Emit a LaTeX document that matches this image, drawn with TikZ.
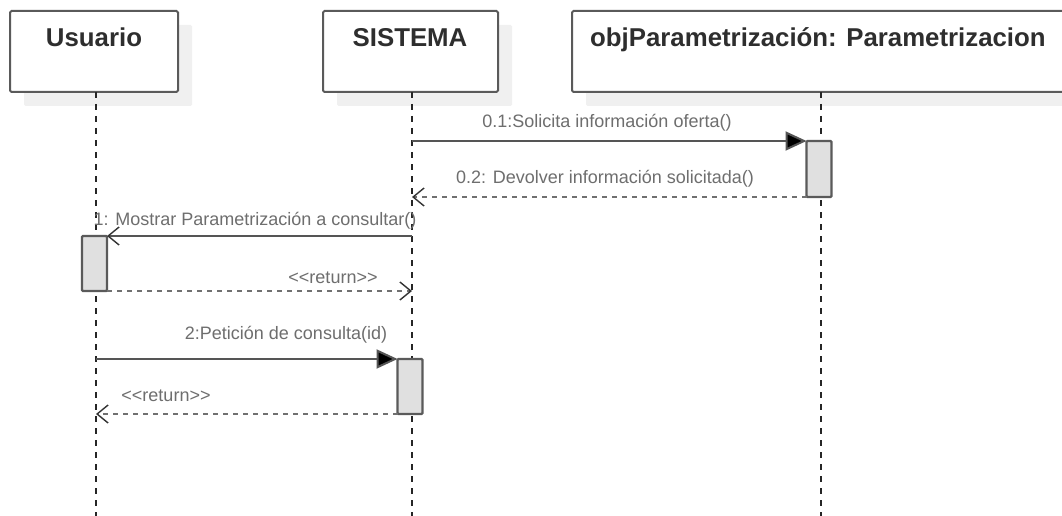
\documentclass[tikz,border=0pt]{standalone}
\usepackage{fontspec}
\setmainfont{Liberation Sans}
\usetikzlibrary{arrows.meta,shadows}

\definecolor{boxline}{HTML}{5A5A5A}
\definecolor{shade}{HTML}{F0F0F0}
\definecolor{actfill}{HTML}{E0E0E0}
\definecolor{titletext}{HTML}{2E2E2E}
\definecolor{msgtext}{HTML}{6E6E6E}
\definecolor{msgline}{HTML}{555555}
\definecolor{retline}{HTML}{707070}

\tikzset{
  objbox/.style={draw=boxline, line width=2pt, fill=white, rounded corners=1.5pt,
    minimum height=81pt, inner sep=0pt, outer sep=0pt, anchor=north west,
    drop shadow={shadow xshift=14pt, shadow yshift=-14pt, fill=shade, opacity=1}},
  objtitle/.style={font=\fontsize{25.8}{28}\selectfont\bfseries, text=titletext,
    anchor=base, inner sep=0pt},
  lifeline/.style={draw=black!85, line width=1.6pt, dash pattern=on 6pt off 6pt},
  actbox/.style={draw=boxline, line width=2.2pt, fill=actfill, rounded corners=1pt,
    minimum width=25pt, inner sep=0pt, outer sep=0pt, anchor=north},
  callmsg/.style={draw=msgline, line width=2pt,
    -{Triangle[length=21pt,width=19pt,fill=black]}},
  syncmsg/.style={draw=msgline, line width=2pt,
    -{Straight Barb[length=11pt,width=18pt,line width=1.4pt,color=black!80]}},
  retmsg/.style={draw=retline, line width=2.2pt, dash pattern=on 5pt off 5pt,
    -{Straight Barb[length=11pt,width=18pt,line width=1.4pt,color=black!80]}},
  msglabel/.style={font=\fontsize{18}{20}\selectfont, text=msgtext, inner sep=0pt}
}

\begin{document}
\begin{tikzpicture}[x=1pt,y=-1pt]
\useasboundingbox (0,0) rectangle (1062,516);
\fill[white] (0,0) rectangle (1062,516);

% participant boxes
\node[objbox, minimum width=168pt] (usr) at (10,11) {};
\node[objbox, minimum width=175pt] (sys) at (323,11) {};
\node[objbox, minimum width=494pt] (par) at (572,11) {};

\node[objtitle] (usrT) at (94,47) {Usuario};
\node[objtitle] (sysT) at (410,47) {SISTEMA};
\node[objtitle, anchor=base west] (parT) at (590,47) {objParametrización: Parametrizacion};

% lifelines
\coordinate (usrEnd) at (96,516);
\coordinate (sysEnd) at (412,516);
\coordinate (parEnd) at (821,516);
\draw[lifeline] (usr.south -| usrEnd) -- (usrEnd);
\draw[lifeline] (sys.south -| sysEnd) -- (sysEnd);
\draw[lifeline] (par.south -| parEnd) -- (parEnd);

% activation bars
\node[actbox, minimum height=56pt] (actP) at (819,141) {};
\node[actbox, minimum height=55pt] (actU) at (94.5,236) {};
\node[actbox, minimum height=55pt] (actS) at (410,359) {};

% message end points on the lifelines
\coordinate (s1) at (412,141);
\coordinate (s2) at (412,197);
\coordinate (s3) at (412,236);
\coordinate (s4) at (412,291);
\coordinate (u5) at (96,359);
\coordinate (u6) at (96,414);

% messages
\draw[callmsg] (s1) -- (actP.north west);
\draw[retmsg]  (actP.south west) -- (s2);
\draw[syncmsg] (s3) -- (actU.north east);
\draw[retmsg]  (actU.south east) -- (s4);
\draw[callmsg] (u5) -- (actS.north west);
\draw[retmsg]  (actS.south west) -- (u6);

% message labels
\node[msglabel] (l1) at (607,123) {0.1:Solicita información oferta()};
\node[msglabel] (l2) at (605,179) {0.2: Devolver información solicitada()};
\node[msglabel] (l3) at (255,221) {1: Mostrar Parametrización a consultar()};
\node[msglabel] (l4) at (333,278) {<{}<return>{}>};
\node[msglabel] (l5) at (286,335) {2:Petición de consulta(id)};
\node[msglabel] (l6) at (166,396) {<{}<return>{}>};
\end{tikzpicture}
\end{document}
